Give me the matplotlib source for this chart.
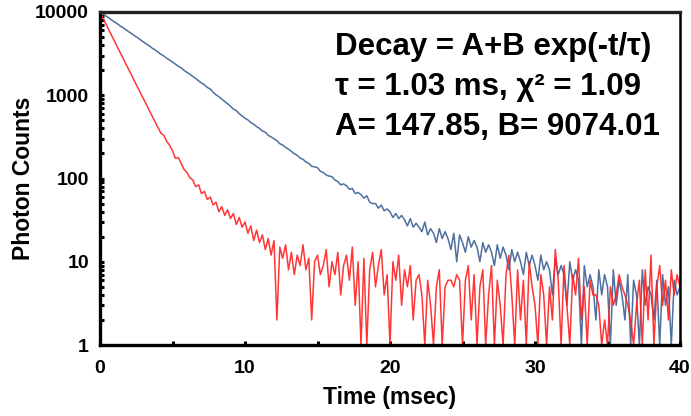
import numpy as np
import matplotlib
matplotlib.use("Agg")
import matplotlib.pyplot as plt
from matplotlib.ticker import LogLocator, NullFormatter, FixedLocator

# Tiempo en ms, paso de 0.2 ms (0 a 40)
tiempo = np.round(np.arange(0, 40.01, 0.2), 1)

# Cuentas (los ceros se dejan en 1, que es el piso del eje)
cuentasAzul = [
    10000, 9480, 8990, 8520, 8030, 7580, 7220, 6790, 6470, 6100,
    5760, 5490, 5150, 4910, 4620, 4360, 4140, 3920, 3680, 3500,
    3300, 3110, 2960, 2780, 2650, 2500, 2370, 2230, 2130, 1990,
    1880, 1790, 1680, 1590, 1490, 1400, 1340, 1240, 1190, 1090,
    1010, 960, 900, 840, 790, 740, 680, 655, 600, 565,
    530, 505, 470, 448, 420, 400, 372, 360, 330, 316,
    300, 285, 262, 252, 236, 225, 212, 198, 190, 176,
    170, 158, 152, 140, 138, 135, 122, 118, 110, 107,
    105, 96, 92, 84, 86, 82, 74, 76, 66, 68,
    64, 58, 62, 52, 50, 50, 44, 48, 41, 43,
    40, 34, 38, 33, 36, 32, 27, 33, 26, 29,
    26, 23, 30, 21, 25, 22, 17, 25, 19, 23,
    19, 14, 22, 10, 21, 17, 13, 20, 15, 18,
    15, 10, 17, 13, 16, 13, 9, 16, 11, 15,
    12, 8, 14, 10, 13, 10, 7, 13, 9, 12,
    9, 6, 12, 8, 10, 8, 4, 11, 7, 9,
    7, 3, 10, 6, 8, 6, 1, 9, 5, 7,
    5, 2, 8, 4, 7, 5, 1, 8, 3, 6,
    4, 2, 7, 1, 6, 4, 1, 8, 3, 5,
    4, 2, 6, 1, 7, 3, 5, 1, 6, 4,
    5,
]

cuentasRojo = [
    10000, 8500, 7250, 6150, 5250, 4450, 3800, 3230, 2760, 2350,
    2000, 1710, 1450, 1240, 1060, 905, 770, 660, 560, 480,
    410, 350, 330, 280, 250, 215, 175, 178, 152, 128,
    118, 102, 96, 80, 84, 66, 70, 56, 60, 48,
    52, 40, 46, 36, 42, 33, 38, 28, 34, 26,
    30, 22, 27, 18, 24, 17, 21, 14, 19, 12,
    18, 2, 15, 11, 16, 8, 13, 7, 12, 9,
    16, 8, 11, 2, 10, 12, 7, 9, 14, 5,
    10, 7, 13, 4, 9, 12, 6, 15, 3, 10,
    1, 11, 1, 8, 13, 5, 9, 14, 4, 7,
    1, 10, 6, 12, 3, 8, 5, 9, 2, 6,
    7, 4, 1, 6, 3, 1, 5, 8, 1, 5,
    6, 6, 5, 7, 6, 1, 6, 9, 2, 7,
    1, 5, 8, 1, 4, 9, 1, 6, 3, 1,
    7, 12, 4, 1, 8, 2, 6, 1, 10, 5,
    3, 1, 7, 4, 1, 5, 2, 14, 6, 1,
    9, 3, 1, 7, 4, 11, 2, 5, 1, 6,
    4, 4, 3, 1, 2, 1, 5, 3, 4, 7,
    5, 4, 3, 2, 1, 3, 6, 1, 8, 2,
    12, 1, 5, 9, 3, 6, 2, 8, 4, 7,
    5,
]

fuente = "Liberation Sans"
plt.rcParams["font.family"] = [fuente, "DejaVu Sans"]
plt.rcParams["font.weight"] = "bold"

fig = plt.figure(figsize=(6.91, 4.16), dpi=100)
ax = fig.add_axes([100 / 691, 1 - 345 / 416, 580 / 691, 333 / 416])

ax.plot(tiempo, cuentasAzul, color="#4f6f9f", lw=1.1)
ax.plot(tiempo, cuentasRojo, color="#ff2020", lw=1.1, alpha=0.9)

ax.set_yscale("log")
ax.set_ylim(1, 10000)
ax.set_xlim(0, 40)

ax.xaxis.set_major_locator(FixedLocator([0, 10, 20, 30, 40]))
ax.xaxis.set_minor_locator(FixedLocator([5, 15, 25, 35]))
ax.yaxis.set_major_locator(LogLocator(base=10, numticks=10))
ax.yaxis.set_minor_locator(LogLocator(base=10, subs=np.arange(2, 10), numticks=10))
ax.yaxis.set_minor_formatter(NullFormatter())
ax.set_yticks([1, 10, 100, 1000, 10000])
ax.set_yticklabels(["1", "10", "100", "1000", "10000"])

ax.tick_params(axis="both", which="both", direction="in", width=2.2, color="black")
ax.tick_params(axis="x", which="major", length=3, labelsize=14, pad=11)
ax.tick_params(axis="y", which="major", length=3, labelsize=14, pad=8)
ax.tick_params(axis="x", which="minor", length=3)
ax.tick_params(axis="y", which="minor", length=3)
for lab in ax.get_xticklabels() + ax.get_yticklabels():
    lab.set_fontweight("bold")

for lado in ["left", "bottom", "top"]:
    ax.spines[lado].set_linewidth(2.4)
ax.spines["right"].set_linewidth(1.8)
ax.spines["top"].set_color("#222222")

ax.set_xlabel("Time (msec)", fontsize=16.5, fontweight="bold", labelpad=6)
ax.set_ylabel("Photon Counts", fontsize=16.5, fontweight="bold", labelpad=0)

# Texto con el ajuste
fig.text(335 / 691, 1 - 47 / 416, "Decay = A+B exp(-t/\u03c4)", fontsize=22.5,
         fontweight="bold", va="center", ha="left")
fig.text(335 / 691, 1 - 87 / 416, "\u03c4 = 1.03 ms, \u03c7\u00b2 = 1.09", fontsize=22.5,
         fontweight="bold", va="center", ha="left")
fig.text(335 / 691, 1 - 127 / 416, "A= 147.85, B= 9074.01", fontsize=22.5,
         fontweight="bold", va="center", ha="left")

fig.savefig("out.png", dpi=100)
